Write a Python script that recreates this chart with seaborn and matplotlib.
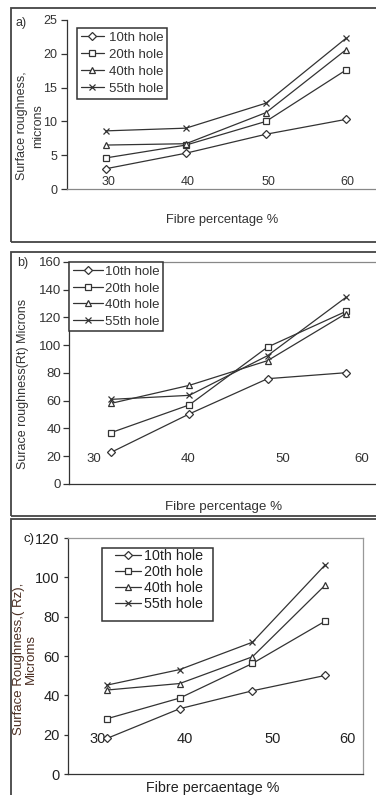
import matplotlib
matplotlib.use("Agg")
import matplotlib.pyplot as plt
import seaborn as sns
from matplotlib.patches import Rectangle

# ---------------- data ----------------
holes = ["10th hole", "20th hole", "40th hole", "55th hole"]
fibre_labels = ["30", "40", "50", "60"]
x_pos = [0, 1, 2, 3]

# a) surface roughness (Ra), microns
a_10 = [3.0, 5.3, 8.1, 10.3]
a_20 = [4.6, 6.5, 10.0, 17.6]
a_40 = [6.5, 6.7, 11.3, 20.6]
a_55 = [8.6, 9.0, 12.7, 22.3]

# b) surface roughness (Rt), microns
b_10 = [22.8, 50.5, 75.9, 80.2]
b_20 = [37.0, 57.0, 98.7, 124.4]
b_40 = [58.1, 71.1, 88.9, 122.8]
b_55 = [61.0, 63.9, 92.5, 134.5]

# c) surface roughness (Rz), microns
c_10 = [18.1, 33.2, 42.3, 50.1]
c_20 = [28.1, 38.6, 56.2, 77.7]
c_40 = [42.7, 46.0, 59.6, 96.0]
c_55 = [45.2, 53.1, 67.0, 106.3]

a_ticks = [0, 5, 10, 15, 20, 25]
b_ticks = [0, 20, 40, 60, 80, 100, 120, 140, 160]
c_ticks = [0, 20, 40, 60, 80, 100, 120]

# ---------------- style ----------------
sns.set_theme(style="white")
plt.rcParams["font.family"] = ["Liberation Sans", "DejaVu Sans"]

W, H = 376, 795
fig = plt.figure(figsize=(W / 100, H / 100), dpi=100)
fig.patch.set_facecolor("white")

LC = "#333333"
TC = "#333333"
markers = ["D", "s", "^", "x"]
msizes = [3.6, 4.3, 5.0, 5.0]


def fx(px):
    return px / W


def fy(py):
    return 1 - py / H


def axes_px(l, t, r, b):
    return fig.add_axes([l / W, 1 - b / H, (r - l) / W, (b - t) / H])


def outer_box(l, t, r, b):
    fig.patches.append(Rectangle((fx(l), fy(b)), (r - l) / W, (b - t) / H,
                                 transform=fig.transFigure, fill=False,
                                 ec="#444444", lw=1.3, zorder=0))


def draw_series(ax, series):
    for name, vals, m, ms in zip(holes, series, markers, msizes):
        sns.lineplot(x=x_pos, y=vals, ax=ax, color=LC, marker=m, markersize=ms,
                     markerfacecolor="white", markeredgecolor=LC,
                     markeredgewidth=0.9, linewidth=0.9, label=name, legend=False)


# ---------------- panel a ----------------
outer_box(11, 8, 392, 242)
axa = axes_px(67, 20, 392, 189)
draw_series(axa, [a_10, a_20, a_40, a_55])
axa.set_xlim(-0.4875, (392 - 106) / 80)
axa.set_ylim(0, 25)
axa.set_yticks(a_ticks)
axa.set_xticks([0.025, 1.025, 2.025, 3.02], fibre_labels)
axa.tick_params(axis="x", length=0, pad=-9.5, labelsize=9, labelcolor=TC)
axa.tick_params(axis="y", left=True, length=4, width=0.9, color=LC, pad=3,
                labelsize=9, labelcolor=TC)
for s in ["top", "right"]:
    axa.spines[s].set_visible(False)
axa.spines["left"].set_color(LC)
axa.spines["left"].set_linewidth(0.9)
axa.spines["bottom"].set_color("#888888")
axa.spines["bottom"].set_linewidth(0.9)
axa.set_facecolor("none")
axa.set_xlabel("Fibre percentage %", fontsize=9.3, color=TC, va="center")
axa.xaxis.set_label_coords(fx(222), fy(220), transform=fig.transFigure)
axa.set_ylabel("Surface roughness,\nmicrons", fontsize=9, color=TC, va="center",
               linespacing=1.45, multialignment="center")
axa.yaxis.set_label_coords(fx(30), fy(126), transform=fig.transFigure)
fig.text(fx(16), fy(23), "a)", fontsize=9, color=TC, ha="left", va="center")
leg = axa.legend(loc="upper left", bbox_to_anchor=(fx(77), fy(28)),
                 bbox_transform=fig.transFigure, borderaxespad=0, fontsize=9.5,
                 frameon=True, fancybox=False, framealpha=1, edgecolor=LC,
                 handlelength=1.75, handletextpad=0.38, labelspacing=0.36,
                 borderpad=0.28)
leg.get_frame().set_linewidth(1.1)
for t in leg.get_texts():
    t.set_color(TC)

# ---------------- panel b ----------------
outer_box(11, 252, 392, 516)
axb = axes_px(69, 262, 392, 484)
draw_series(axb, [b_10, b_20, b_40, b_55])
sb = 78.3
axb.set_xlim((69 - 111) / sb, (392 - 111) / sb)
axb.set_ylim(0, 160)
axb.set_yticks(b_ticks)
axb.set_xticks([(94 - 111) / sb, (188 - 111) / sb, (283 - 111) / sb, (362 - 111) / sb],
               fibre_labels)
axb.tick_params(axis="x", length=0, pad=-22.5, labelsize=9.5, labelcolor=TC)
axb.tick_params(axis="y", left=True, length=4, width=0.9, color=LC, pad=1.5,
                labelsize=9.5, labelcolor=TC)
axb.spines["right"].set_visible(False)
axb.spines["top"].set_color("#888888")
axb.spines["top"].set_linewidth(0.9)
axb.spines["left"].set_color(LC)
axb.spines["left"].set_linewidth(0.9)
axb.spines["bottom"].set_color(LC)
axb.spines["bottom"].set_linewidth(0.9)
axb.set_facecolor("none")
axb.set_xlabel("Fibre percentage %", fontsize=9.6, color=TC, va="center")
axb.xaxis.set_label_coords(fx(224), fy(507), transform=fig.transFigure)
axb.set_ylabel("Surace roughness(Rt) Microns", fontsize=9, color=TC, va="center")
axb.yaxis.set_label_coords(fx(23), fy(384), transform=fig.transFigure)
fig.text(fx(17), fy(263), "b)", fontsize=9, color=TC, ha="left", va="center")
leg = axb.legend(loc="upper left", bbox_to_anchor=(fx(69), fy(262)),
                 bbox_transform=fig.transFigure, borderaxespad=0, fontsize=9.5,
                 frameon=True, fancybox=False, framealpha=1, edgecolor=LC,
                 handlelength=2.3, handletextpad=0.15, labelspacing=0.33,
                 borderpad=0.28)
leg.get_frame().set_linewidth(1.1)
for t in leg.get_texts():
    t.set_color(TC)

# ---------------- panel c ----------------
outer_box(11, 519, 392, 800)
axc = axes_px(68, 538, 363, 774)
draw_series(axc, [c_10, c_20, c_40, c_55])
sc = 72.7
axc.set_xlim((68 - 107) / sc, (363 - 107) / sc)
axc.set_ylim(0, 120)
axc.set_yticks(c_ticks)
axc.set_xticks([(98 - 107) / sc, (185 - 107) / sc, (273 - 107) / sc, (347 - 107) / sc],
               fibre_labels)
axc.tick_params(axis="x", length=0, pad=-30, labelsize=10.5, labelcolor="#222222")
axc.tick_params(axis="y", left=True, length=3, width=0.9, color=LC, pad=3,
                labelsize=10.5, labelcolor="#222222")
for s in ["top", "right"]:
    axc.spines[s].set_color("#999999")
    axc.spines[s].set_linewidth(0.9)
for s in ["left", "bottom"]:
    axc.spines[s].set_color(LC)
    axc.spines[s].set_linewidth(0.9)
axc.set_facecolor("none")
axc.set_xlabel("Fibre percaentage %", fontsize=10.3, color="#222222", va="center")
axc.xaxis.set_label_coords(fx(213), fy(788), transform=fig.transFigure)
axc.set_ylabel("Surface Roughness,( Rz),\nMicroms", fontsize=9.5, color="#4b2e22",
               va="center", linespacing=0.95, multialignment="center")
axc.yaxis.set_label_coords(fx(25), fy(659), transform=fig.transFigure)
fig.text(fx(34), fy(539), "c)", fontsize=9.5, color="#222222", ha="right", va="center")
legbox = Rectangle((fx(102), fy(621)), (213 - 102) / W, (621 - 548) / H,
                   transform=fig.transFigure, fill=True, fc="white",
                   ec=LC, lw=1.1, zorder=4, clip_on=False)
axc.add_patch(legbox)
leg = axc.legend(loc="upper left", bbox_to_anchor=(fx(114), fy(548)),
                 bbox_transform=fig.transFigure, borderaxespad=0, fontsize=10.3,
                 frameon=False, handlelength=1.8, handletextpad=0.2,
                 labelspacing=0.12, borderpad=0.1)
leg.set_zorder(5)
for t in leg.get_texts():
    t.set_color("#222222")

fig.savefig("out.png", dpi=100, facecolor="white")
